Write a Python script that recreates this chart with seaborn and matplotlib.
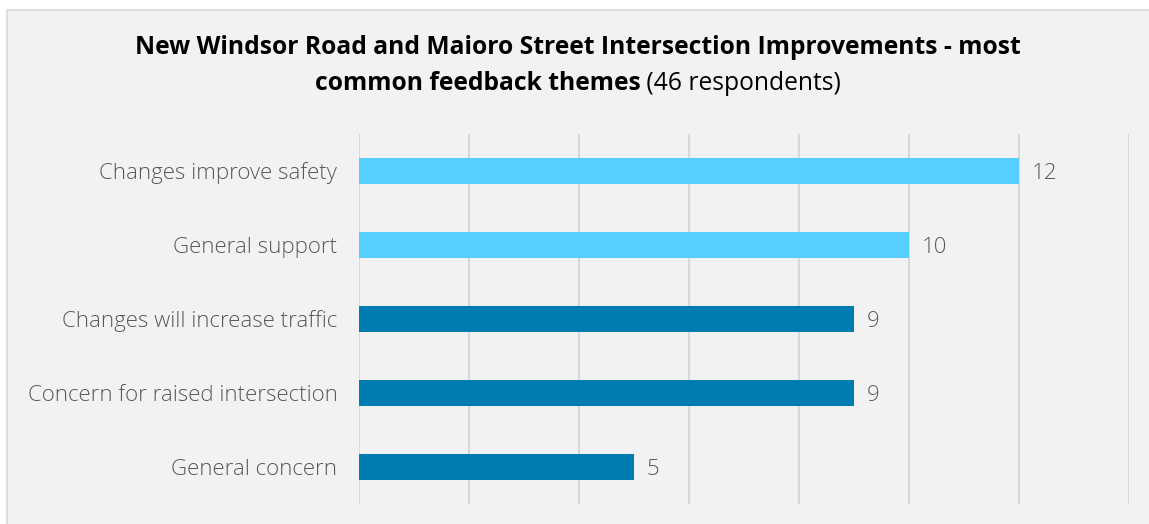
import matplotlib
matplotlib.use("Agg")
import matplotlib.pyplot as plt
import seaborn as sns
import pandas as pd
from matplotlib.patches import Rectangle

categories = ["Changes improve safety", "General support", "Changes will increase traffic",
              "Concern for raised intersection", "General concern"]
counts = [12, 10, 9, 9, 5]
sentiment = ["Positive", "Positive", "Concern", "Concern", "Concern"]
title_line1 = "New Windsor Road and Maioro Street Intersection Improvements - most"
title_line2_bold = "common feedback themes"
title_line2_normal = " (46 respondents)"

df = pd.DataFrame({"theme": categories, "count": counts, "sentiment": sentiment})
palette = {"Positive": "#56CFFE", "Concern": "#007DB0"}

sns.set_theme(style="white")
plt.rcParams["font.family"] = ["Open Sans", "DejaVu Sans"]

W, H = 1149, 524
fig = plt.figure(figsize=(W / 100, H / 100), dpi=100, facecolor="white")
fig.patches.append(Rectangle((7 / W, -0.05), 1, (H - 10) / H + 0.05, transform=fig.transFigure,
                             facecolor="#F2F2F2", edgecolor="#D9D9D9", linewidth=1.2, zorder=-10))

ax = fig.add_axes([359 / W, 20 / H, (1129 - 359) / W, (504 - 134) / H])
ax.set_facecolor("none")
ax.set_zorder(5)
sns.barplot(data=df, y="theme", x="count", hue="sentiment", palette=palette,
            dodge=False, width=0.35, legend=False, ax=ax, saturation=1, linewidth=0)
ax.set_xlim(0, 14)
ax.set_ylim(4.5, -0.5)
ax.set_xticks(range(0, 15, 2))
ax.xaxis.grid(True, color="#D9D9D9", linewidth=1.5)
ax.set_axisbelow(True)
for s in ax.spines.values():
    s.set_visible(False)
ax.tick_params(axis="x", length=0, labelbottom=False)
ax.tick_params(axis="y", length=0, pad=15.5)
ax.set_xlabel("")
ax.set_ylabel("")
LS = 16
for lbl in ax.get_yticklabels():
    lbl.set_fontsize(LS)
    lbl.set_color("#595959")
    lbl.set_fontweight("light")

for cont in ax.containers:
    labels = ax.bar_label(cont, padding=9, fontsize=LS, color="#595959", fontweight="light")
    for t in labels:
        t.set_va("center")
        t.xyann = (9, -2)

TS = 17.7
fig.text(0.5 * (7 + W) / W, (H - 47) / H, title_line1, ha="center", va="center",
         fontsize=TS, fontweight="bold", color="black")
renderer = fig.canvas.get_renderer()
t1 = fig.text(0, (H - 84) / H, title_line2_bold, ha="left", va="center",
              fontsize=TS, fontweight="bold", color="black")
t2 = fig.text(0, (H - 84) / H, title_line2_normal, ha="left", va="center",
              fontsize=TS, color="black")
w1 = t1.get_window_extent(renderer).width
w2 = t2.get_window_extent(renderer).width
cx = 0.5 * (7 + W)
start = cx - (w1 + w2) / 2
t1.set_x(start / W)
t2.set_x((start + w1) / W)

fig.savefig("out.png", dpi=100, facecolor="white")
